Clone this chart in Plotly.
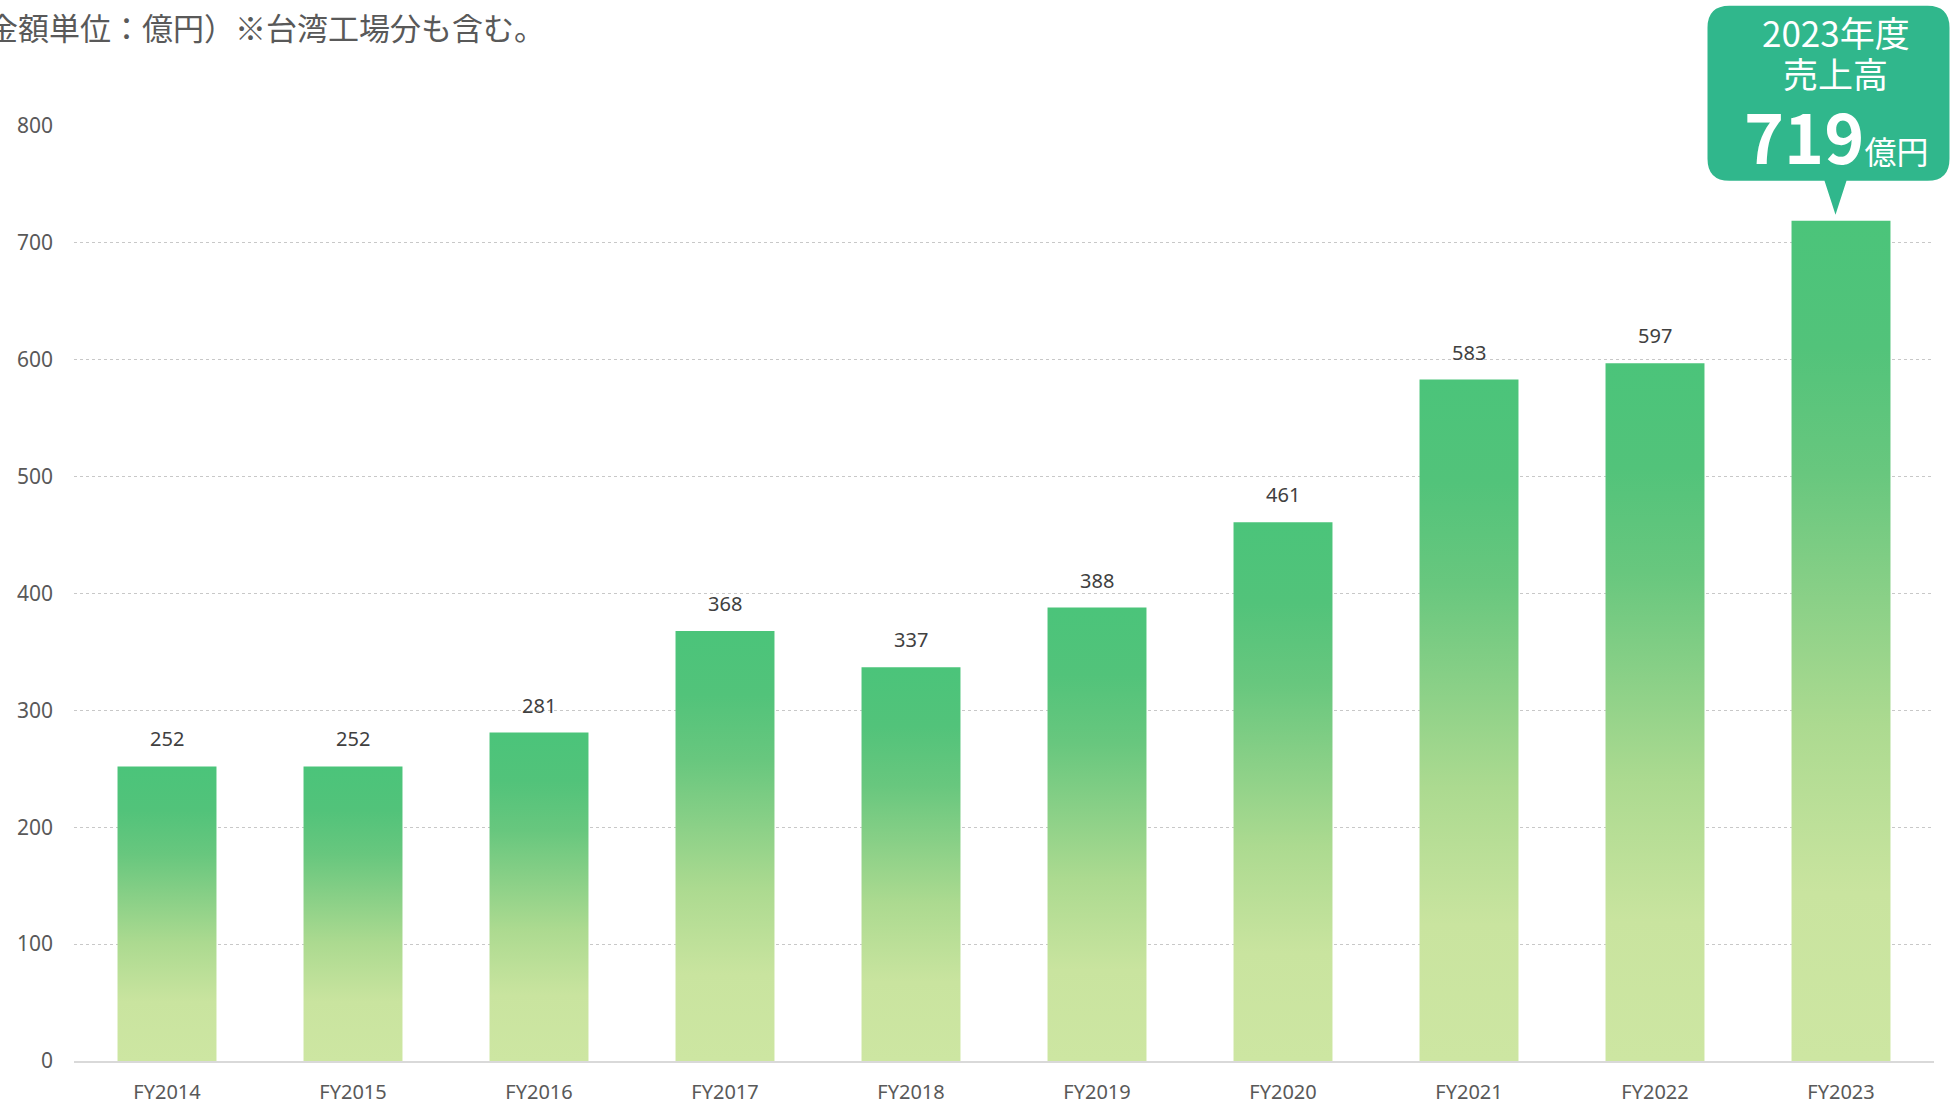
import plotly.graph_objects as go

# Sales by fiscal year (100 million yen)
categories = ["FY2014", "FY2015", "FY2016", "FY2017", "FY2018",
              "FY2019", "FY2020", "FY2021", "FY2022", "FY2023"]
sales = [252, 252, 281, 368, 337, 388, 461, 583, 597, 719]
y_ticks = [0, 100, 200, 300, 400, 500, 600, 700, 800]

title_text = "（金額単位：億円）※台湾工場分も含む。"
callout_year = "2023年度"
callout_label = "売上高"
callout_unit = "億円"

W, H = 1951, 1106
M_L, M_R, M_T, M_B = 74, 17, 126, 45
BAR_W = 0.532
JP_FONT = "Noto Sans CJK JP"
NUM_FONT = "Noto Sans"

bar_scale = [
    [0.0, "#cde6a2"],
    [0.2, "#c9e49f"],
    [0.4, "#acda90"],
    [0.55, "#8ad087"],
    [0.7, "#68c77e"],
    [0.85, "#52c37a"],
    [1.0, "#4bc47a"],
]

fig = go.Figure()

last_i = len(categories) - 1

# Each bar is a filled rectangle so it can carry its own vertical gradient
for i, (cat, v) in enumerate(zip(categories, sales)):
    x0, x1 = i - BAR_W / 2, i + BAR_W / 2
    fig.add_trace(go.Scatter(
        x=[x0, x1, x1, x0, x0],
        y=[0, 0, v, v, 0],
        mode="lines",
        line=dict(width=0),
        fill="toself",
        fillgradient=dict(type="vertical", colorscale=bar_scale),
        hoverinfo="skip",
        showlegend=False,
        name=cat,
    ))
    if i != last_i:
        fig.add_annotation(
            x=i, y=v, text=str(v), showarrow=False,
            yanchor="bottom", yshift=12,
            font=dict(family=NUM_FONT, size=20, color="#404040"),
        )

x_range = [-0.5, len(categories) - 0.5]
y_range = [0, 800]

# Callout above the latest year's bar
last_v = sales[-1]
anchor_x = (last_i - x_range[0]) / (x_range[1] - x_range[0])
anchor_y = (last_v - y_range[0]) / (y_range[1] - y_range[0])

L, R, T, B, r = -133.5, 108.5, 215, 40, 22
tip_x, tip_y, half_base = -5.5, 6, 11
callout_path = (
    f"M {L + r},{T} H {R - r} Q {R},{T} {R},{T - r} "
    f"V {B + r} Q {R},{B} {R - r},{B} "
    f"H {tip_x + half_base} L {tip_x},{tip_y} L {tip_x - half_base},{B} "
    f"H {L + r} Q {L},{B} {L},{B + r} "
    f"V {T - r} Q {L},{T} {L + r},{T} Z"
)
fig.add_shape(
    type="path", path=callout_path,
    xref="paper", yref="paper",
    xsizemode="pixel", ysizemode="pixel",
    xanchor=anchor_x, yanchor=anchor_y,
    fillcolor="#30b78c", line=dict(width=0), layer="above",
)

fig.add_annotation(
    x=last_i, y=last_v, xshift=tip_x, yshift=189,
    text=callout_year, showarrow=False, yanchor="middle", borderpad=0,
    font=dict(family=JP_FONT, size=35, color="white"),
)
fig.add_annotation(
    x=last_i, y=last_v, xshift=tip_x, yshift=148,
    text=callout_label, showarrow=False, yanchor="middle", borderpad=0,
    font=dict(family=JP_FONT, size=35, color="white"),
)
fig.add_annotation(
    x=last_i, y=last_v, xshift=tip_x, yshift=86,
    text=(f"<b>{last_v}</b>"
          f"<span style='font-size:32px;font-weight:normal'>{callout_unit}</span>"),
    showarrow=False, yanchor="middle", borderpad=0,
    font=dict(family=JP_FONT, size=68, color="white"),
)

# Unit note at the top-left
fig.add_annotation(
    xref="paper", yref="paper",
    x=(-46 - M_L) / (W - M_L - M_R), y=(H - M_B - 27) / (H - M_T - M_B),
    xanchor="left", yanchor="middle",
    text=title_text, showarrow=False,
    font=dict(family=JP_FONT, size=31, color="#595959"),
)

fig.update_layout(
    width=W, height=H,
    margin=dict(l=M_L, r=M_R, t=M_T, b=M_B, pad=0, autoexpand=False),
    plot_bgcolor="white", paper_bgcolor="white",
    showlegend=False,
    xaxis=dict(
        range=x_range, tickmode="array",
        tickvals=list(range(len(categories))), ticktext=categories,
        showgrid=False, zeroline=False,
        showline=True, linecolor="#d9d9d9", linewidth=2,
        ticks="", ticklabelstandoff=12, automargin=False,
        tickfont=dict(family=NUM_FONT, size=20, color="#595959"),
        fixedrange=True,
    ),
    yaxis=dict(
        range=y_range, tickmode="array", tickvals=y_ticks,
        showgrid=True, gridcolor="#c8c8c8", griddash="dot", gridwidth=1,
        zeroline=False, showline=False,
        ticks="", ticklabelstandoff=20, automargin=False,
        tickfont=dict(family=NUM_FONT, size=21, color="#595959"),
        fixedrange=True,
    ),
)

fig.write_html("out.html")
